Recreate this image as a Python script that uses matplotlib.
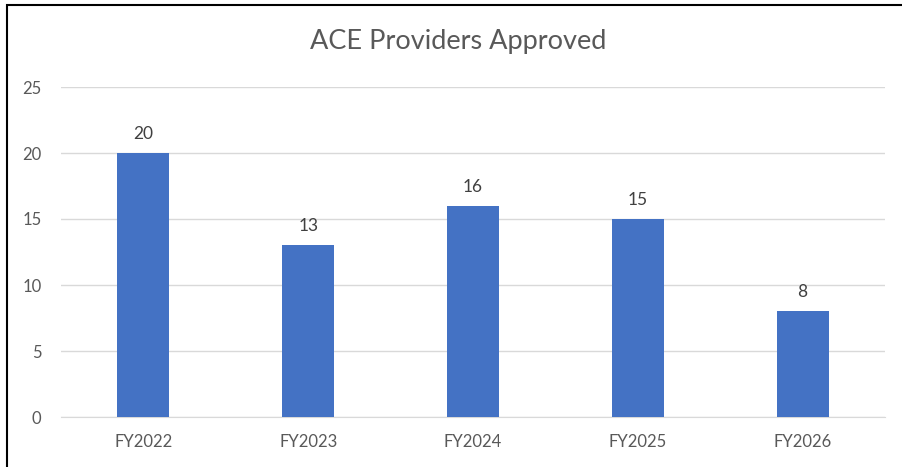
import matplotlib.pyplot as plt
from matplotlib.patches import Rectangle

# Data
years = ['FY2022', 'FY2023', 'FY2024', 'FY2025', 'FY2026']
approved = [20, 13, 16, 15, 8]
y_ticks = [0, 5, 10, 15, 20, 25]

plt.rcParams['font.family'] = ['Lato', 'DejaVu Sans']
text_color = '#595959'

fig = plt.figure(figsize=(9.03, 4.67), dpi=100)
ax = fig.add_axes([61 / 903, 1 - 417 / 467, (885 - 61) / 903, (417 - 87) / 467])

bars = ax.bar(years, approved, width=0.315, color='#4472C4', zorder=3)

# Value labels above each bar
for rect, val in zip(bars, approved):
    ax.annotate(str(val), (rect.get_x() + rect.get_width() / 2, rect.get_height()),
                xytext=(0, 8), textcoords='offset points',
                ha='center', va='bottom', fontsize=12.5, color='#404040')

ax.set_ylim(0, 25)
ax.set_xlim(-0.5, len(years) - 0.5)
ax.set_yticks(y_ticks)
ax.yaxis.grid(True, color='#d9d9d9', linewidth=1, zorder=0)
ax.tick_params(axis='both', length=0, labelsize=12, colors=text_color)
ax.tick_params(axis='y', pad=14)
ax.tick_params(axis='x', pad=12)

# Remove borders, keep light baseline
for side in ['top', 'right', 'left']:
    ax.spines[side].set_visible(False)
ax.spines['bottom'].set_color('#d9d9d9')

fig.text(458 / 903, 1 - 42 / 467, 'ACE Providers Approved', ha='center', va='center',
         fontsize=19.5, color=text_color)

# Outer chart frame
fig.patches.append(Rectangle((7 / 903, -0.1), 1.1, 1 - 5 / 467 + 0.1,
                             transform=fig.transFigure, fill=False,
                             edgecolor='black', linewidth=1.5))

plt.savefig('out.png', dpi=100)
